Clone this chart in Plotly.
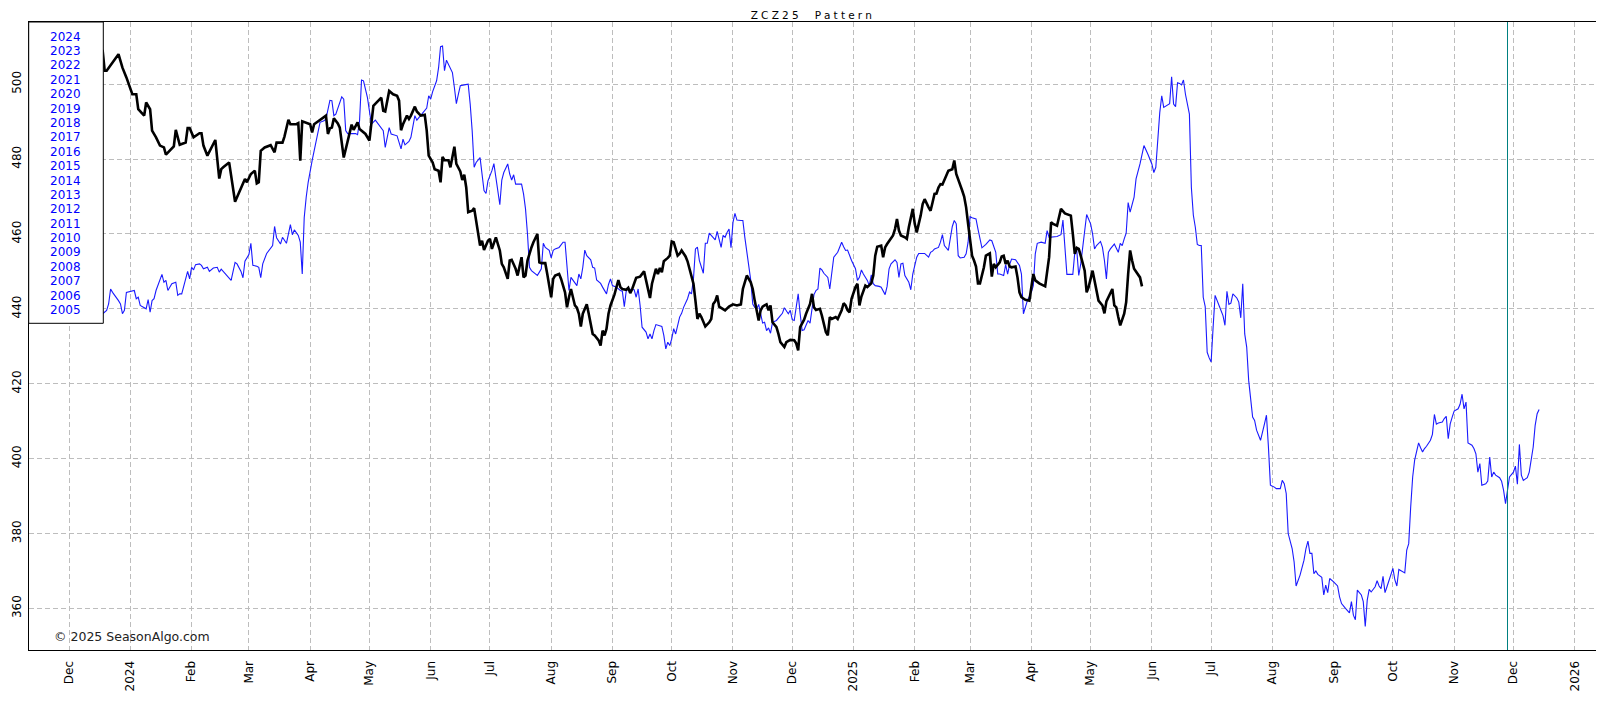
import plotly.graph_objects as go

# ==========================================
# DATA
# ==========================================
TITLE = "ZCZ25\u00a0\u00a0Pattern"
COPYRIGHT = "\u00a9 2025 SeasonAlgo.com"

LEGEND_YEARS = [str(y) for y in range(2024, 2004, -1)]

MONTH_TICKS = [
    "2023-12-01", "2024-01-01", "2024-02-01", "2024-03-01", "2024-04-01", "2024-05-01",
    "2024-06-01", "2024-07-01", "2024-08-01", "2024-09-01", "2024-10-01", "2024-11-01",
    "2024-12-01", "2025-01-01", "2025-02-01", "2025-03-01", "2025-04-01", "2025-05-01",
    "2025-06-01", "2025-07-01", "2025-08-01", "2025-09-01", "2025-10-01", "2025-11-01",
    "2025-12-01", "2026-01-01",
]
MONTH_LABELS = [
    "Dec", "2024", "Feb", "Mar", "Apr", "May", "Jun", "Jul", "Aug", "Sep", "Oct", "Nov",
    "Dec", "2025", "Feb", "Mar", "Apr", "May", "Jun", "Jul", "Aug", "Sep", "Oct", "Nov",
    "Dec", "2026",
]
PRICE_TICKS = [360, 380, 400, 420, 440, 460, 480, 500]

X_RANGE = ["2023-11-10 17:00", "2026-01-12 07:00"]
Y_RANGE = [348.9, 516.6]
MARKER_DATE = "2025-11-28"

# ZCZ25 actual prices (black)
contract_dates = [
    "2023-12-14", "2023-12-18", "2023-12-19", "2023-12-20", "2023-12-26", "2023-12-27", "2023-12-28", "2023-12-30",
    "2024-01-02", "2024-01-04", "2024-01-05", "2024-01-08", "2024-01-09", "2024-01-11", "2024-01-12", "2024-01-14",
    "2024-01-16", "2024-01-18", "2024-01-19", "2024-01-23", "2024-01-24", "2024-01-26", "2024-01-29", "2024-01-30",
    "2024-01-31", "2024-02-02", "2024-02-05", "2024-02-06", "2024-02-07", "2024-02-09", "2024-02-13", "2024-02-15",
    "2024-02-16", "2024-02-17", "2024-02-20", "2024-02-23", "2024-02-26", "2024-02-28", "2024-02-29", "2024-03-02",
    "2024-03-04", "2024-03-05", "2024-03-06", "2024-03-07", "2024-03-09", "2024-03-12", "2024-03-14", "2024-03-15",
    "2024-03-18", "2024-03-19", "2024-03-21", "2024-03-22", "2024-03-25", "2024-03-26", "2024-03-27", "2024-03-28",
    "2024-04-01", "2024-04-02", "2024-04-03", "2024-04-09", "2024-04-10", "2024-04-11", "2024-04-12", "2024-04-13",
    "2024-04-15", "2024-04-16", "2024-04-18", "2024-04-20", "2024-04-22", "2024-04-23", "2024-04-25", "2024-04-26",
    "2024-04-29", "2024-05-01", "2024-05-03", "2024-05-07", "2024-05-08", "2024-05-09", "2024-05-11", "2024-05-13",
    "2024-05-15", "2024-05-16", "2024-05-17", "2024-05-18", "2024-05-20", "2024-05-21", "2024-05-22", "2024-05-24",
    "2024-05-25", "2024-05-27", "2024-05-29", "2024-05-30", "2024-05-31", "2024-06-02", "2024-06-03", "2024-06-05",
    "2024-06-06", "2024-06-07", "2024-06-08", "2024-06-10", "2024-06-11", "2024-06-13", "2024-06-14", "2024-06-16",
    "2024-06-17", "2024-06-18", "2024-06-19", "2024-06-20", "2024-06-22", "2024-06-23", "2024-06-25", "2024-06-26",
    "2024-06-27", "2024-06-28", "2024-06-30", "2024-07-01", "2024-07-02", "2024-07-04", "2024-07-06", "2024-07-07",
    "2024-07-08", "2024-07-10", "2024-07-11", "2024-07-12", "2024-07-14", "2024-07-15", "2024-07-17", "2024-07-18",
    "2024-07-19", "2024-07-20", "2024-07-22", "2024-07-23", "2024-07-25", "2024-07-26", "2024-07-27", "2024-07-29",
    "2024-07-30", "2024-07-31", "2024-08-01", "2024-08-02", "2024-08-03", "2024-08-05", "2024-08-06", "2024-08-08",
    "2024-08-09", "2024-08-10", "2024-08-11", "2024-08-13", "2024-08-14", "2024-08-15", "2024-08-16", "2024-08-17",
    "2024-08-19", "2024-08-20", "2024-08-22", "2024-08-23", "2024-08-25", "2024-08-26", "2024-08-27", "2024-08-28",
    "2024-08-29", "2024-08-30", "2024-08-31", "2024-09-02", "2024-09-04", "2024-09-05", "2024-09-06", "2024-09-08",
    "2024-09-09", "2024-09-10", "2024-09-11", "2024-09-13", "2024-09-14", "2024-09-15", "2024-09-17", "2024-09-18",
    "2024-09-19", "2024-09-20", "2024-09-21", "2024-09-23", "2024-09-24", "2024-09-25", "2024-09-26", "2024-09-27",
    "2024-09-29", "2024-09-30", "2024-10-01", "2024-10-02", "2024-10-04", "2024-10-05", "2024-10-06", "2024-10-08",
    "2024-10-09", "2024-10-10", "2024-10-12", "2024-10-13", "2024-10-14", "2024-10-15", "2024-10-16", "2024-10-18",
    "2024-10-20", "2024-10-21", "2024-10-22", "2024-10-23", "2024-10-24", "2024-10-25", "2024-10-27", "2024-10-28",
    "2024-10-30", "2024-11-01", "2024-11-03", "2024-11-05", "2024-11-06", "2024-11-07", "2024-11-08", "2024-11-10",
    "2024-11-11", "2024-11-12", "2024-11-13", "2024-11-14", "2024-11-15", "2024-11-16", "2024-11-17", "2024-11-18",
    "2024-11-19", "2024-11-20", "2024-11-21", "2024-11-23", "2024-11-24", "2024-11-25", "2024-11-27", "2024-11-28",
    "2024-11-30", "2024-12-02", "2024-12-03", "2024-12-04", "2024-12-05", "2024-12-07", "2024-12-08", "2024-12-10",
    "2024-12-11", "2024-12-12", "2024-12-13", "2024-12-15", "2024-12-16", "2024-12-18", "2024-12-19", "2024-12-20",
    "2024-12-21", "2024-12-23", "2024-12-24", "2024-12-26", "2024-12-27", "2024-12-28", "2024-12-29", "2024-12-30",
    "2024-12-31", "2025-01-02", "2025-01-03", "2025-01-04", "2025-01-05", "2025-01-06", "2025-01-07", "2025-01-08",
    "2025-01-10", "2025-01-11", "2025-01-12", "2025-01-13", "2025-01-15", "2025-01-16", "2025-01-17", "2025-01-18",
    "2025-01-20", "2025-01-21", "2025-01-22", "2025-01-23", "2025-01-24", "2025-01-25", "2025-01-27", "2025-01-28",
    "2025-01-29", "2025-01-31", "2025-02-01", "2025-02-02", "2025-02-03", "2025-02-04", "2025-02-05", "2025-02-06",
    "2025-02-08", "2025-02-09", "2025-02-10", "2025-02-11", "2025-02-12", "2025-02-13", "2025-02-14", "2025-02-15",
    "2025-02-16", "2025-02-17", "2025-02-18", "2025-02-20", "2025-02-21", "2025-02-22", "2025-02-24", "2025-02-25",
    "2025-02-26", "2025-02-27", "2025-02-28", "2025-03-01", "2025-03-02", "2025-03-03", "2025-03-04", "2025-03-05",
    "2025-03-06", "2025-03-08", "2025-03-09", "2025-03-11", "2025-03-12", "2025-03-13", "2025-03-14", "2025-03-16",
    "2025-03-17", "2025-03-18", "2025-03-19", "2025-03-20", "2025-03-21", "2025-03-22", "2025-03-24", "2025-03-25",
    "2025-03-26", "2025-03-27", "2025-03-29", "2025-03-31", "2025-04-02", "2025-04-03", "2025-04-05", "2025-04-08",
    "2025-04-09", "2025-04-10", "2025-04-11", "2025-04-12", "2025-04-14", "2025-04-15", "2025-04-16", "2025-04-18",
    "2025-04-21", "2025-04-22", "2025-04-23", "2025-04-24", "2025-04-25", "2025-04-26", "2025-04-27", "2025-04-28",
    "2025-04-29", "2025-04-30", "2025-05-02", "2025-05-03", "2025-05-04", "2025-05-05", "2025-05-07", "2025-05-08",
    "2025-05-09", "2025-05-11", "2025-05-12", "2025-05-13", "2025-05-14", "2025-05-15", "2025-05-16", "2025-05-18",
    "2025-05-19", "2025-05-20", "2025-05-21", "2025-05-22", "2025-05-23", "2025-05-26", "2025-05-27",
]
contract_prices = [
    510.0, 508.9, 503.6, 503.6, 508.0, 505.8, 504.4, 501.8,
    497.3, 497.3, 493.3, 491.6, 495.1, 493.3, 487.6, 485.8,
    483.6, 483.1, 481.2, 483.4, 487.8, 483.8, 484.4, 488.3,
    488.3, 485.8, 486.9, 486.9, 483.6, 480.9, 485.1, 474.8,
    477.3, 477.8, 479.1, 468.6, 472.0, 474.7, 473.8, 476.0,
    476.9, 473.5, 473.8, 482.2, 483.1, 483.7, 481.8, 484.4,
    484.4, 486.0, 490.5, 489.3, 489.3, 489.6, 479.6, 490.1,
    489.3, 487.1, 489.3, 491.6, 486.7, 488.2, 488.4, 490.9,
    489.5, 488.4, 480.4, 484.9, 489.2, 487.8, 489.8, 488.0,
    486.7, 484.9, 494.2, 496.4, 492.9, 492.7, 498.2, 497.3,
    496.9, 495.6, 487.7, 489.3, 491.6, 490.7, 491.6, 494.0,
    492.7, 491.6, 491.8, 487.6, 480.9, 479.1, 477.3, 476.9,
    473.8, 480.6, 479.7, 479.7, 477.8, 483.3, 478.7, 476.7,
    474.4, 475.8, 472.4, 465.8, 466.2, 466.9, 460.0, 456.9,
    458.2, 455.7, 458.2, 458.7, 456.0, 459.1, 455.6, 452.0,
    451.1, 448.0, 452.9, 453.1, 450.7, 448.9, 453.8, 448.4,
    448.9, 452.9, 456.4, 457.8, 460.0, 452.4, 452.2, 452.2,
    449.3, 446.7, 443.1, 448.0, 448.9, 449.3, 448.0, 444.4,
    440.4, 443.1, 445.3, 440.9, 440.3, 438.7, 435.3, 438.7,
    441.2, 438.7, 433.3, 432.9, 431.6, 430.2, 434.2, 432.9,
    434.7, 438.7, 440.9, 443.8, 447.7, 445.8, 445.3, 445.1,
    445.6, 444.2, 445.3, 448.3, 448.4, 448.6, 450.0, 447.7,
    445.8, 442.9, 446.7, 450.7, 449.3, 450.9, 449.8, 452.7,
    453.6, 454.2, 458.0, 457.8, 454.2, 454.7, 455.6, 454.0,
    452.7, 450.9, 446.7, 442.2, 437.3, 438.7, 437.8, 435.3,
    436.4, 437.3, 441.3, 442.0, 443.6, 440.6, 440.0, 439.6,
    440.6, 441.2, 440.9, 441.2, 445.3, 447.1, 448.9, 447.1,
    445.3, 442.2, 439.6, 436.9, 439.6, 440.6, 440.9, 441.2,
    439.6, 440.9, 436.4, 435.1, 433.3, 431.1, 429.8, 431.1,
    431.7, 431.6, 430.8, 428.9, 435.1, 437.1, 438.7, 441.3,
    444.0, 440.4, 439.7, 440.0, 438.2, 433.8, 432.9, 437.8,
    437.3, 437.8, 437.3, 439.6, 441.5, 440.9, 439.6, 439.1,
    442.7, 445.8, 446.7, 440.9, 443.3, 444.9, 446.2, 445.8,
    446.8, 448.9, 454.2, 456.6, 456.9, 453.8, 456.4, 457.3,
    458.7, 459.6, 461.3, 464.0, 460.9, 459.6, 459.1, 458.7,
    461.8, 466.7, 462.7, 460.4, 462.7, 464.9, 468.0, 469.3,
    467.1, 466.2, 468.4, 470.7, 470.8, 472.4, 473.3, 473.2,
    474.4, 475.6, 476.9, 477.3, 479.6, 476.0, 473.3, 471.6,
    470.0, 467.1, 462.7, 458.2, 454.2, 452.9, 451.3, 446.8,
    446.8, 451.1, 454.2, 454.8, 448.6, 452.0, 451.1, 452.4,
    454.0, 454.2, 452.0, 452.9, 451.3, 451.1, 451.3, 448.4,
    444.4, 443.1, 442.4, 442.2, 449.3, 447.6, 446.8, 446.0,
    450.7, 453.8, 463.1, 462.7, 462.2, 464.4, 466.7, 465.5,
    464.9, 460.0, 454.7, 456.3, 456.0, 454.2, 452.0, 450.2,
    444.4, 445.8, 450.2, 447.6, 444.9, 442.2, 440.9, 438.8,
    442.0, 444.0, 445.3, 440.9, 440.4, 437.8, 435.6, 438.7,
    441.8, 449.3, 455.6, 452.9, 450.7, 448.4, 446.0,
]

# seasonal pattern (blue)
pattern_dates = [
    "2023-12-14", "2023-12-18", "2023-12-20", "2023-12-21", "2023-12-22", "2023-12-23", "2023-12-26", "2023-12-27",
    "2023-12-28", "2023-12-29", "2023-12-30", "2024-01-03", "2024-01-04", "2024-01-05", "2024-01-06", "2024-01-08",
    "2024-01-09", "2024-01-10", "2024-01-11", "2024-01-12", "2024-01-13", "2024-01-14", "2024-01-17", "2024-01-18",
    "2024-01-19", "2024-01-20", "2024-01-22", "2024-01-24", "2024-01-25", "2024-01-26", "2024-01-27", "2024-01-29",
    "2024-01-30", "2024-01-31", "2024-02-01", "2024-02-02", "2024-02-03", "2024-02-05", "2024-02-06", "2024-02-07",
    "2024-02-09", "2024-02-10", "2024-02-12", "2024-02-14", "2024-02-15", "2024-02-16", "2024-02-19", "2024-02-21",
    "2024-02-23", "2024-02-24", "2024-02-26", "2024-02-27", "2024-02-28", "2024-03-01", "2024-03-02", "2024-03-03",
    "2024-03-05", "2024-03-06", "2024-03-07", "2024-03-08", "2024-03-10", "2024-03-12", "2024-03-13", "2024-03-14",
    "2024-03-15", "2024-03-17", "2024-03-18", "2024-03-20", "2024-03-22", "2024-03-23", "2024-03-24", "2024-03-26",
    "2024-03-27", "2024-03-28", "2024-03-29", "2024-03-30", "2024-03-31", "2024-04-02", "2024-04-04", "2024-04-06",
    "2024-04-08", "2024-04-09", "2024-04-11", "2024-04-12", "2024-04-13", "2024-04-14", "2024-04-17", "2024-04-18",
    "2024-04-19", "2024-04-20", "2024-04-23", "2024-04-24", "2024-04-25", "2024-04-26", "2024-04-27", "2024-04-28",
    "2024-04-30", "2024-05-02", "2024-05-04", "2024-05-06", "2024-05-08", "2024-05-09", "2024-05-10", "2024-05-11",
    "2024-05-12", "2024-05-14", "2024-05-15", "2024-05-17", "2024-05-18", "2024-05-19", "2024-05-21", "2024-05-22",
    "2024-05-24", "2024-05-25", "2024-05-27", "2024-05-29", "2024-05-30", "2024-05-31", "2024-06-01", "2024-06-02",
    "2024-06-04", "2024-06-05", "2024-06-06", "2024-06-07", "2024-06-08", "2024-06-09", "2024-06-10", "2024-06-12",
    "2024-06-13", "2024-06-14", "2024-06-15", "2024-06-16", "2024-06-18", "2024-06-20", "2024-06-21", "2024-06-22",
    "2024-06-23", "2024-06-24", "2024-06-26", "2024-06-27", "2024-06-28", "2024-06-29", "2024-06-30", "2024-07-02",
    "2024-07-03", "2024-07-04", "2024-07-05", "2024-07-06", "2024-07-07", "2024-07-08", "2024-07-10", "2024-07-11",
    "2024-07-12", "2024-07-13", "2024-07-14", "2024-07-17", "2024-07-18", "2024-07-19", "2024-07-20", "2024-07-21",
    "2024-07-22", "2024-07-23", "2024-07-25", "2024-07-26", "2024-07-27", "2024-07-28", "2024-07-29", "2024-07-31",
    "2024-08-01", "2024-08-02", "2024-08-03", "2024-08-05", "2024-08-07", "2024-08-08", "2024-08-09", "2024-08-10",
    "2024-08-11", "2024-08-13", "2024-08-14", "2024-08-15", "2024-08-16", "2024-08-17", "2024-08-18", "2024-08-19",
    "2024-08-21", "2024-08-22", "2024-08-23", "2024-08-24", "2024-08-26", "2024-08-27", "2024-08-29", "2024-08-30",
    "2024-08-31", "2024-09-01", "2024-09-03", "2024-09-05", "2024-09-06", "2024-09-07", "2024-09-08", "2024-09-09",
    "2024-09-11", "2024-09-12", "2024-09-13", "2024-09-14", "2024-09-15", "2024-09-16", "2024-09-18", "2024-09-19",
    "2024-09-20", "2024-09-21", "2024-09-22", "2024-09-23", "2024-09-26", "2024-09-27", "2024-09-28", "2024-09-29",
    "2024-09-30", "2024-10-01", "2024-10-02", "2024-10-03", "2024-10-05", "2024-10-06", "2024-10-07", "2024-10-09",
    "2024-10-10", "2024-10-11", "2024-10-12", "2024-10-13", "2024-10-14", "2024-10-15", "2024-10-17", "2024-10-18",
    "2024-10-19", "2024-10-20", "2024-10-21", "2024-10-23", "2024-10-24", "2024-10-25", "2024-10-26", "2024-10-27",
    "2024-10-28", "2024-10-29", "2024-10-30", "2024-10-31", "2024-11-01", "2024-11-02", "2024-11-03", "2024-11-05",
    "2024-11-06", "2024-11-07", "2024-11-08", "2024-11-09", "2024-11-10", "2024-11-11", "2024-11-12", "2024-11-13",
    "2024-11-14", "2024-11-15", "2024-11-16", "2024-11-17", "2024-11-18", "2024-11-19", "2024-11-20", "2024-11-21",
    "2024-11-23", "2024-11-25", "2024-11-26", "2024-11-27", "2024-11-28", "2024-11-29", "2024-11-30", "2024-12-01",
    "2024-12-02", "2024-12-03", "2024-12-04", "2024-12-05", "2024-12-06", "2024-12-07", "2024-12-08", "2024-12-09",
    "2024-12-10", "2024-12-11", "2024-12-12", "2024-12-13", "2024-12-14", "2024-12-15", "2024-12-16", "2024-12-17",
    "2024-12-18", "2024-12-19", "2024-12-20", "2024-12-21", "2024-12-22", "2024-12-24", "2024-12-25", "2024-12-26",
    "2024-12-27", "2024-12-28", "2024-12-29", "2024-12-30", "2024-12-31", "2025-01-02", "2025-01-03", "2025-01-04",
    "2025-01-05", "2025-01-06", "2025-01-08", "2025-01-09", "2025-01-10", "2025-01-11", "2025-01-12", "2025-01-14",
    "2025-01-15", "2025-01-17", "2025-01-18", "2025-01-19", "2025-01-20", "2025-01-22", "2025-01-23", "2025-01-24",
    "2025-01-25", "2025-01-26", "2025-01-27", "2025-01-29", "2025-01-30", "2025-01-31", "2025-02-01", "2025-02-02",
    "2025-02-03", "2025-02-06", "2025-02-08", "2025-02-09", "2025-02-10", "2025-02-11", "2025-02-13", "2025-02-14",
    "2025-02-15", "2025-02-16", "2025-02-18", "2025-02-19", "2025-02-20", "2025-02-21", "2025-02-22", "2025-02-23",
    "2025-02-24", "2025-02-26", "2025-02-27", "2025-02-28", "2025-03-01", "2025-03-02", "2025-03-04", "2025-03-05",
    "2025-03-06", "2025-03-07", "2025-03-09", "2025-03-11", "2025-03-12", "2025-03-14", "2025-03-15", "2025-03-16",
    "2025-03-18", "2025-03-19", "2025-03-20", "2025-03-21", "2025-03-22", "2025-03-24", "2025-03-26", "2025-03-27",
    "2025-03-28", "2025-03-30", "2025-04-01", "2025-04-02", "2025-04-03", "2025-04-04", "2025-04-06", "2025-04-08",
    "2025-04-09", "2025-04-10", "2025-04-14", "2025-04-16", "2025-04-17", "2025-04-18", "2025-04-19", "2025-04-22",
    "2025-04-23", "2025-04-24", "2025-04-25", "2025-04-26", "2025-04-27", "2025-04-29", "2025-05-01", "2025-05-02",
    "2025-05-03", "2025-05-04", "2025-05-06", "2025-05-07", "2025-05-08", "2025-05-09", "2025-05-10", "2025-05-11",
    "2025-05-13", "2025-05-14", "2025-05-15", "2025-05-16", "2025-05-17", "2025-05-18", "2025-05-19", "2025-05-20",
    "2025-05-21", "2025-05-23", "2025-05-24", "2025-05-26", "2025-05-28", "2025-05-30", "2025-06-01", "2025-06-02",
    "2025-06-03", "2025-06-05", "2025-06-06", "2025-06-07", "2025-06-08", "2025-06-10", "2025-06-11", "2025-06-12",
    "2025-06-13", "2025-06-14", "2025-06-15", "2025-06-16", "2025-06-17", "2025-06-18", "2025-06-20", "2025-06-21",
    "2025-06-22", "2025-06-23", "2025-06-24", "2025-06-25", "2025-06-26", "2025-06-27", "2025-06-28", "2025-06-29",
    "2025-06-30", "2025-07-01", "2025-07-02", "2025-07-03", "2025-07-05", "2025-07-07", "2025-07-08", "2025-07-09",
    "2025-07-10", "2025-07-11", "2025-07-12", "2025-07-14", "2025-07-15", "2025-07-16", "2025-07-17", "2025-07-18",
    "2025-07-19", "2025-07-20", "2025-07-22", "2025-07-23", "2025-07-24", "2025-07-26", "2025-07-28", "2025-07-29",
    "2025-07-30", "2025-07-31", "2025-08-02", "2025-08-03", "2025-08-05", "2025-08-06", "2025-08-07", "2025-08-08",
    "2025-08-09", "2025-08-11", "2025-08-12", "2025-08-13", "2025-08-15", "2025-08-17", "2025-08-18", "2025-08-19",
    "2025-08-20", "2025-08-21", "2025-08-22", "2025-08-23", "2025-08-24", "2025-08-26", "2025-08-27", "2025-08-28",
    "2025-08-29", "2025-08-30", "2025-09-01", "2025-09-03", "2025-09-04", "2025-09-05", "2025-09-07", "2025-09-09",
    "2025-09-10", "2025-09-11", "2025-09-12", "2025-09-13", "2025-09-15", "2025-09-16", "2025-09-17", "2025-09-18",
    "2025-09-19", "2025-09-20", "2025-09-22", "2025-09-23", "2025-09-24", "2025-09-25", "2025-09-26", "2025-09-27",
    "2025-09-28", "2025-09-29", "2025-10-01", "2025-10-02", "2025-10-03", "2025-10-04", "2025-10-06", "2025-10-07",
    "2025-10-08", "2025-10-09", "2025-10-10", "2025-10-11", "2025-10-12", "2025-10-14", "2025-10-15", "2025-10-16",
    "2025-10-17", "2025-10-18", "2025-10-20", "2025-10-21", "2025-10-22", "2025-10-23", "2025-10-24", "2025-10-26",
    "2025-10-27", "2025-10-28", "2025-10-29", "2025-10-30", "2025-10-31", "2025-11-01", "2025-11-03", "2025-11-04",
    "2025-11-05", "2025-11-06", "2025-11-07", "2025-11-08", "2025-11-10", "2025-11-11", "2025-11-12", "2025-11-13",
    "2025-11-14", "2025-11-15", "2025-11-17", "2025-11-18", "2025-11-19", "2025-11-20", "2025-11-21", "2025-11-22",
    "2025-11-24", "2025-11-25", "2025-11-26", "2025-11-27", "2025-11-29", "2025-12-01", "2025-12-02", "2025-12-03",
    "2025-12-04", "2025-12-05", "2025-12-06", "2025-12-08", "2025-12-09", "2025-12-11", "2025-12-12", "2025-12-13",
    "2025-12-14",
]
pattern_prices = [
    440.0, 438.7, 439.6, 441.3, 445.3, 444.4, 442.2, 441.3,
    438.7, 439.6, 444.4, 444.9, 442.7, 443.1, 440.9, 440.4,
    440.0, 442.5, 439.1, 442.2, 442.7, 444.9, 449.2, 447.1,
    447.6, 444.9, 446.7, 447.1, 443.6, 444.0, 444.0, 448.0,
    450.0, 448.0, 451.1, 450.4, 451.8, 452.0, 451.6, 450.7,
    451.1, 450.0, 450.9, 451.1, 449.8, 450.6, 448.9, 447.6,
    452.4, 452.0, 450.0, 448.3, 452.7, 454.5, 457.5, 451.6,
    451.4, 451.1, 448.3, 452.0, 454.8, 456.0, 456.9, 462.0,
    459.0, 457.3, 459.1, 457.5, 462.5, 459.8, 461.1, 459.6,
    457.8, 449.3, 464.4, 469.8, 473.8, 479.6, 484.9, 489.8,
    490.2, 490.7, 495.7, 495.6, 491.6, 492.0, 496.6, 496.0,
    487.6, 486.8, 486.8, 486.8, 486.5, 490.2, 501.1, 500.9,
    496.4, 489.3, 490.4, 488.9, 487.6, 483.1, 486.2, 488.4,
    486.7, 486.5, 486.2, 482.7, 485.3, 483.8, 484.7, 485.8,
    491.6, 490.4, 491.6, 493.1, 493.6, 496.9, 496.0, 498.0,
    500.9, 504.4, 510.0, 510.2, 503.6, 506.4, 505.3, 503.1,
    499.1, 494.8, 497.3, 499.6, 499.8, 500.0, 494.7, 487.6,
    477.8, 479.1, 480.4, 476.0, 471.6, 470.8, 474.2, 476.9,
    478.8, 475.1, 471.4, 467.8, 474.4, 476.4, 478.7, 476.0,
    474.4, 475.8, 473.3, 473.3, 470.7, 466.7, 460.0, 451.1,
    450.2, 449.8, 448.9, 449.8, 450.7, 457.5, 456.4, 455.6,
    453.6, 455.6, 456.0, 456.4, 457.8, 457.8, 450.7, 444.9,
    448.4, 447.1, 446.2, 449.3, 448.0, 451.1, 455.7, 454.2,
    453.1, 451.1, 450.9, 447.7, 446.8, 445.8, 444.0, 446.5,
    448.0, 446.2, 445.8, 444.9, 444.7, 440.6, 444.9, 445.3,
    445.1, 445.1, 443.1, 445.3, 440.9, 435.1, 433.8, 432.0,
    433.3, 432.0, 434.2, 435.8, 435.3, 432.9, 429.3, 431.1,
    430.2, 432.0, 434.7, 433.3, 437.8, 438.8, 440.4, 442.7,
    444.5, 444.0, 448.0, 456.0, 456.5, 452.9, 449.5, 457.5,
    457.5, 460.2, 459.6, 458.4, 460.7, 458.2, 456.4, 459.6,
    459.1, 460.4, 461.3, 456.3, 463.1, 465.5, 463.7, 463.6,
    463.6, 459.1, 455.6, 451.1, 447.6, 441.3, 440.4, 440.0,
    441.2, 438.7, 436.2, 436.4, 434.2, 434.9, 433.5, 436.4,
    436.9, 438.2, 438.8, 440.3, 439.4, 438.7, 439.6, 437.1,
    436.9, 440.4, 444.0, 438.7, 434.2, 434.4, 435.6, 436.9,
    436.2, 439.6, 443.8, 444.9, 445.3, 450.9, 450.4, 449.5,
    448.9, 448.4, 445.3, 449.3, 453.8, 455.1, 456.6, 457.8,
    456.6, 455.6, 455.7, 454.2, 452.9, 450.7, 447.6, 448.4,
    450.4, 449.3, 447.6, 446.2, 449.1, 446.7, 446.2, 446.0,
    445.8, 443.8, 446.0, 450.7, 452.0, 453.1, 452.4, 448.4,
    452.0, 452.2, 448.9, 447.1, 445.1, 449.3, 451.3, 453.8,
    454.8, 454.8, 453.8, 455.1, 455.4, 456.0, 456.4, 457.8,
    459.8, 456.9, 455.6, 459.1, 462.0, 463.6, 462.7, 454.2,
    453.6, 453.8, 454.7, 457.8, 464.6, 464.3, 464.0, 461.3,
    458.7, 456.3, 457.2, 458.4, 458.2, 455.1, 449.3, 449.3,
    448.9, 451.8, 449.3, 451.8, 453.3, 453.1, 451.6, 449.3,
    438.7, 442.2, 444.4, 446.2, 454.7, 457.5, 457.8, 457.5,
    460.9, 459.1, 459.3, 459.8, 463.7, 456.4, 449.2, 449.2,
    455.1, 455.6, 448.9, 452.0, 456.9, 465.2, 462.7, 460.0,
    456.0, 456.9, 458.0, 456.4, 452.9, 448.0, 455.1, 456.0,
    457.3, 456.4, 455.1, 457.5, 456.9, 458.7, 460.2, 468.4,
    465.8, 469.8, 474.7, 478.7, 483.6, 481.3, 478.7, 476.4,
    477.8, 492.4, 496.9, 493.8, 494.2, 494.8, 502.0, 494.7,
    494.0, 500.4, 500.2, 499.8, 501.1, 497.3, 492.0, 472.4,
    465.0, 461.8, 457.2, 456.9, 456.9, 443.1, 440.6, 428.4,
    426.9, 425.8, 435.1, 443.6, 440.9, 438.2, 435.6, 444.7,
    441.2, 441.5, 444.0, 442.9, 441.8, 437.6, 446.7, 433.3,
    429.8, 420.9, 411.1, 410.2, 407.6, 404.9, 409.3, 411.6,
    403.1, 392.9, 392.4, 392.0, 392.0, 394.2, 393.3, 390.7,
    380.0, 376.0, 372.4, 366.0, 368.9, 372.9, 376.0, 378.0,
    374.7, 374.7, 369.3, 370.0, 369.1, 368.3, 363.6, 366.2,
    364.2, 368.0, 367.1, 366.0, 363.1, 361.3, 360.0, 358.8,
    361.8, 358.2, 357.0, 364.9, 363.6, 361.8, 355.2, 362.2,
    365.1, 364.4, 365.8, 367.4, 366.0, 365.3, 368.6, 364.2,
    365.8, 367.6, 370.7, 367.6, 366.0, 370.4, 369.8, 369.5,
    375.6, 377.3, 387.1, 395.1, 399.6, 404.2, 402.9, 401.8,
    402.7, 403.3, 404.9, 406.5, 411.8, 409.2, 409.5, 409.8,
    410.7, 411.3, 405.3, 409.3, 411.1, 412.7, 413.3, 414.5,
    417.2, 413.3, 415.1, 404.2, 403.6, 402.7, 401.3, 396.4,
    398.7, 392.9, 393.3, 394.0, 400.4, 395.1, 396.4, 395.6,
    394.9, 394.0, 391.6, 388.0, 395.1, 396.4, 398.0, 393.2,
    403.8, 395.6, 394.2, 394.9, 396.4, 403.1, 408.9, 412.0,
    413.1,
]

# ==========================================
# LAYOUT
# ==========================================
FONT = "DejaVu Sans"
# the html body puts the figure 8px in from the page corner
PAGE_OFFSET = 8
WIDTH, HEIGHT = 1604 - PAGE_OFFSET, 708 - PAGE_OFFSET
MARGIN = dict(l=21, r=7, t=14, b=58)
GRID = "#bdbdbd"


def paper_x(page_x):
    """Page pixel column -> paper x."""
    plot_w = WIDTH - MARGIN["l"] - MARGIN["r"]
    return (page_x - PAGE_OFFSET - MARGIN["l"]) / plot_w


def paper_y(page_y):
    """Page pixel row (from top) -> paper y."""
    plot_h = HEIGHT - MARGIN["t"] - MARGIN["b"]
    return (HEIGHT - MARGIN["b"] - (page_y - PAGE_OFFSET)) / plot_h


def build_figure():
    fig = go.Figure()

    fig.add_trace(go.Scatter(
        x=pattern_dates, y=pattern_prices, mode="lines",
        line=dict(color="#1a1aff", width=1.1), name="pattern",
    ))
    fig.add_trace(go.Scatter(
        x=contract_dates, y=contract_prices, mode="lines",
        line=dict(color="black", width=2.6), name="ZCZ25",
    ))

    # today marker
    fig.add_shape(type="line", xref="x", yref="paper",
                  x0=MARKER_DATE, x1=MARKER_DATE, y0=0, y1=1,
                  line=dict(color="#008080", width=1), layer="above")

    # year list box in the top-left corner
    fig.add_shape(type="rect", xref="paper", yref="paper",
                  x0=paper_x(28.7), x1=paper_x(103.3),
                  y0=paper_y(323.3), y1=1,
                  line=dict(color="black", width=1), fillcolor="white", layer="above")
    step = (310.0 - 36.7) / (len(LEGEND_YEARS) - 1)
    for i, year in enumerate(LEGEND_YEARS):
        fig.add_annotation(
            x=paper_x(65.7), y=paper_y(36.7 + i * step),
            xref="paper", yref="paper", text=year, showarrow=False,
            xanchor="center", yanchor="middle",
            font=dict(family=FONT, size=12, color="#0000ff"),
        )

    fig.add_annotation(
        x=paper_x(51.7), y=paper_y(636), xref="paper", yref="paper",
        text=COPYRIGHT, showarrow=False, xanchor="left", yanchor="middle",
        font=dict(family=FONT, size=12.5, color="#222222"),
    )

    # title squeezed between the page top and the frame, as in the original
    title_mid = (PAGE_OFFSET + 21.7) / 2 - PAGE_OFFSET
    fig.update_layout(
        width=WIDTH, height=HEIGHT, margin=MARGIN,
        paper_bgcolor="white", plot_bgcolor="white",
        showlegend=False,
        font=dict(family=FONT, size=12, color="black"),
        title=dict(text='<span style="letter-spacing:3.2px">' + TITLE + "</span>",
                   x=paper_x(812.9), xref="paper",
                   y=1 - title_mid / HEIGHT, yref="container",
                   xanchor="center", yanchor="middle",
                   font=dict(family=FONT, size=10.5, color="black")),
    )
    fig.update_xaxes(
        type="date", range=X_RANGE, automargin=False,
        tickmode="array", tickvals=MONTH_TICKS, ticktext=MONTH_LABELS,
        tickangle=-90, tickfont=dict(family=FONT, size=12, color="black"),
        ticklabelstandoff=5,
        showgrid=True, gridcolor=GRID, griddash="5px,3px", gridwidth=1,
        showline=True, linecolor="black", linewidth=1.3, mirror=True,
        zeroline=False, ticks="",
    )
    fig.update_yaxes(
        range=Y_RANGE, automargin=False,
        tickmode="array", tickvals=PRICE_TICKS,
        tickangle=-90, tickfont=dict(family=FONT, size=12, color="black"),
        ticklabelstandoff=2,
        showgrid=True, gridcolor=GRID, griddash="5px,3px", gridwidth=1,
        showline=True, linecolor="black", linewidth=1.3, mirror=True,
        zeroline=False, ticks="",
    )
    return fig


def main():
    fig = build_figure()
    fig.write_html("out.html")


if __name__ == "__main__":
    main()
